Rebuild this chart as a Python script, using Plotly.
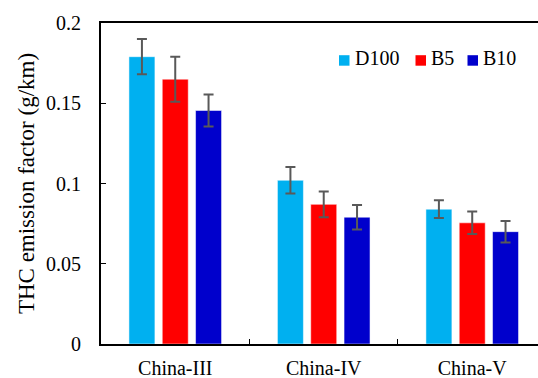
import plotly.graph_objects as go

categories = ["China-III", "China-IV", "China-V"]
series_names = ["D100", "B5", "B10"]
d100 = [0.179, 0.102, 0.084]
b5 = [0.165, 0.087, 0.0755]
b10 = [0.1455, 0.079, 0.070]
d100_err = [0.011, 0.0083, 0.0055]
b5_err = [0.014, 0.008, 0.007]
b10_err = [0.010, 0.0076, 0.0067]
colors = ["#00B0F0", "#FF0000", "#0000CC"]
y_ticks = [0, 0.05, 0.1, 0.15, 0.2]
y_tick_labels = ["0", "0.05", "0.1", "0.15", "0.2"]

FONT = "Liberation Serif, Times New Roman, serif"

W, H = 538, 378
ML, MR, MT, MB = 101, 0, 23, 34
PW, PH = W - ML - MR, H - MT - MB

def px_x(x):
    return (x - ML) / PW

def px_y(y):
    return (H - MB - y) / PH

fig = go.Figure()
for name, vals, errs, col in zip(series_names, [d100, b5, b10], [d100_err, b5_err, b10_err], colors):
    fig.add_trace(go.Bar(
        x=categories, y=vals, name=name, showlegend=False,
        marker=dict(color=col, line=dict(color="rgba(255,255,255,0.5)", width=1)),
        error_y=dict(type="data", array=errs, visible=True, color="#595959", thickness=2, width=5),
    ))

# Legend (keys + labels, positioned like the reference)
legend_key_left = [339, 415.5, 467.5]
key_size = 10.5
for name, col, kx in zip(series_names, colors, legend_key_left):
    fig.add_shape(type="rect", xref="paper", yref="paper",
                  x0=px_x(kx), x1=px_x(kx + key_size),
                  y0=px_y(65.7), y1=px_y(65.7 - key_size),
                  fillcolor=col, line=dict(width=0))
    fig.add_annotation(xref="paper", yref="paper", x=px_x(kx + key_size + 4),
                       y=px_y(58.5), xanchor="left", yanchor="middle",
                       text=name, showarrow=False, borderpad=0,
                       font=dict(size=20, family=FONT, color="black"))

fig.update_layout(
    width=W, height=H,
    margin=dict(l=ML, r=MR, t=MT, b=MB),
    paper_bgcolor="white", plot_bgcolor="white",
    font=dict(family=FONT, size=20, color="black"),
    barmode="group", bargap=0.327, bargroupgap=0.22,
    showlegend=False,
    xaxis=dict(range=[-0.5, 2.443], showline=True, linecolor="black", linewidth=2,
               mirror=True, ticks="inside", ticklen=5, tickcolor="black",
               tickson="boundaries", ticklabelstandoff=5, showgrid=False,
               automargin=False,
               tickfont=dict(size=20, family=FONT)),
    yaxis=dict(range=[0, 0.2], tickvals=y_ticks, ticktext=y_tick_labels,
               showline=True, linecolor="black", linewidth=2, ticks="inside",
               ticklen=5, tickcolor="black", showgrid=False, zeroline=False,
               ticklabelstandoff=14, automargin=False,
               title=dict(text="THC emission factor (g/km)", standoff=5,
                          font=dict(size=23, family=FONT)),
               tickfont=dict(size=20, family=FONT)),
)

fig.write_html("out.html")
